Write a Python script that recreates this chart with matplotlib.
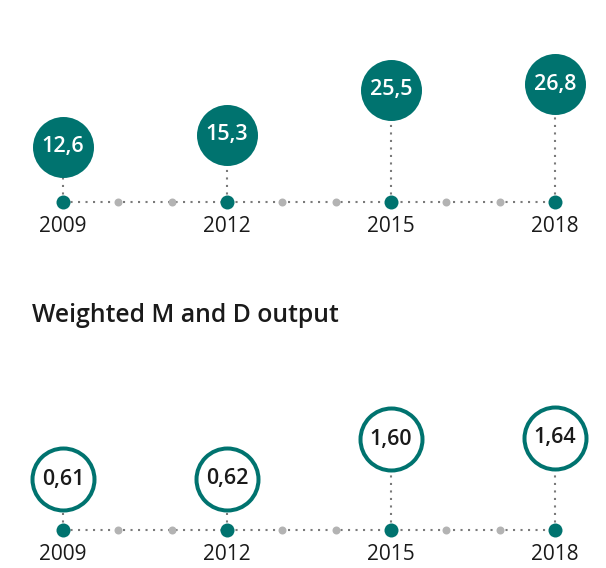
import matplotlib
matplotlib.use("Agg")
import matplotlib.pyplot as plt

plt.rcParams['font.family'] = ['Open Sans', 'DejaVu Sans']

years = [2009, 2012, 2015, 2018]
minor_years = [2010, 2011, 2013, 2014, 2016, 2017]
top_values = [12.6, 15.3, 25.5, 26.8]
top_labels = ["12,6", "15,3", "25,5", "26,8"]
bottom_values = [0.61, 0.62, 1.60, 1.64]
bottom_labels = ["0,61", "0,62", "1,60", "1,64"]
bottom_title = "Weighted M and D output"

TEAL = "#00736F"
GREY_DOT = "#b3b3b3"
LINE_GREY = "#7a7a7a"
TEXT = "#1a1a1a"

W, H = 606, 568
DPI = 100
fig = plt.figure(figsize=(W / DPI, H / DPI), dpi=DPI)

px_per_year = 54.67
x0_px = 63
xlim = (years[0] - x0_px / px_per_year, years[0] + (W - x0_px) / px_per_year)


def make_ax(top_px, bot_px, base_px, ppu, base_val):
    ax = fig.add_axes([0, 1 - bot_px / H, 1, (bot_px - top_px) / H])
    ax.set_xlim(*xlim)
    ax.set_ylim(base_val - (bot_px - base_px) / ppu, base_val + (base_px - top_px) / ppu)
    ax.axis('off')
    return ax


def draw_panel(ax, values, labels, base_val, filled):
    ax.plot([years[0], years[-1]], [base_val, base_val], color=LINE_GREY,
            lw=1.5, linestyle=(0, (1, 2.6)), dash_capstyle='butt', zorder=1)
    for x, v in zip(years, values):
        ax.plot([x, x], [base_val, v], color=LINE_GREY, lw=1.5,
                linestyle=(0, (1, 2.6)), dash_capstyle='butt', zorder=1)
    ax.scatter(minor_years, [base_val] * len(minor_years), s=(8 * 0.72) ** 2,
               color=GREY_DOT, zorder=2, linewidths=0)
    ax.scatter(years, [base_val] * len(years), s=(14 * 0.72) ** 2,
               color=TEAL, zorder=3, linewidths=0)
    for x in years:
        ax.annotate(str(x), (x, base_val), xytext=(0, -25), textcoords='offset pixels',
                    ha='center', va='center', fontsize=15, color=TEXT)
    if filled:
        ax.scatter(years, values, s=(61 * 0.72) ** 2, color=TEAL, zorder=4, linewidths=0)
        for x, v, t in zip(years, values, labels):
            ax.text(x, v, t, ha='center', va='center', fontsize=15.5, color='white',
                    fontweight='semibold', zorder=5)
    else:
        ax.scatter(years, values, s=(62 * 0.72) ** 2, facecolor='white', edgecolor=TEAL,
                   linewidths=4 * 0.72, zorder=4)
        for x, v, t in zip(years, values, labels):
            ax.text(x, v, t, ha='center', va='center', fontsize=15.5, color=TEXT,
                    fontweight='semibold', zorder=5)


ax_top = make_ax(0, 270, 202, 4.4, 0.0)
draw_panel(ax_top, top_values, top_labels, 0.0, True)

base_b = -26.4 / 40.3
ax_bot = make_ax(340, 568, 530, 40.3, base_b)
draw_panel(ax_bot, bottom_values, bottom_labels, base_b, False)

fig.text(32 / W, 1 - 315 / H, bottom_title, ha='left', va='center', fontsize=17.8,
         fontweight='semibold', color=TEXT)

fig.savefig("out.png", dpi=DPI)
